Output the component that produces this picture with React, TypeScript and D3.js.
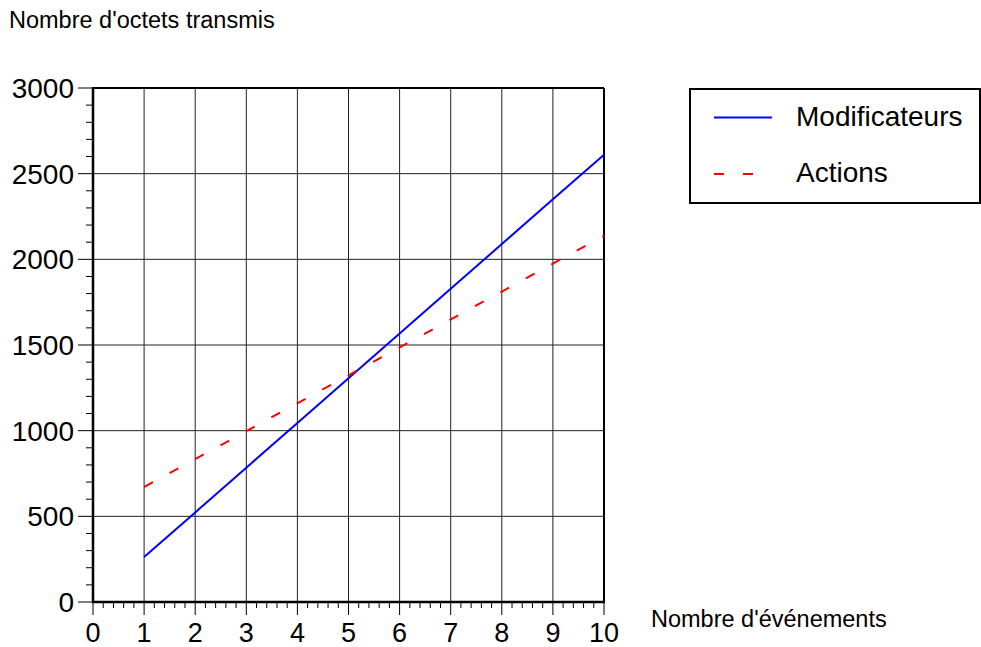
import { useEffect, useRef } from 'react';
import * as d3 from 'd3';

// Values
const events = [1, 2, 3, 4, 5, 6, 7, 8, 9, 10];
const modificateurs = [262, 523, 784, 1045, 1306, 1567, 1828, 2089, 2350, 2610];
const actions = [671, 834, 997, 1160, 1323, 1486, 1649, 1812, 1975, 2137];
const xTicks = [0, 1, 2, 3, 4, 5, 6, 7, 8, 9, 10];
const yTicks = [0, 500, 1000, 1500, 2000, 2500, 3000];
const seriesNames = ['Modificateurs', 'Actions'];

export default function App() {
  const svgRef = useRef<SVGSVGElement>(null);

  useEffect(() => {
    if (!svgRef.current) return;
    const svg = d3.select(svgRef.current);
    svg.selectAll('*').remove();

    const font = 'Liberation Sans, Arial, Helvetica, sans-serif';

    // Plot area in page coords (svg sits at 0,0 of the window)
    const x = d3.scaleLinear().domain([0, 10]).range([93, 604]);
    const y = d3.scaleLinear().domain([0, 3000]).range([602, 88]);

    const g = svg.append('g');

    // Grid
    g.selectAll('.vgrid')
      .data(xTicks.filter(d => d > 0 && d < 10))
      .enter()
      .append('line')
      .attr('x1', d => x(d)).attr('x2', d => x(d))
      .attr('y1', y(0)).attr('y2', y(3000))
      .attr('stroke', '#222').attr('stroke-width', 1);
    g.selectAll('.hgrid')
      .data(yTicks.filter(d => d > 0 && d < 3000))
      .enter()
      .append('line')
      .attr('x1', x(0)).attr('x2', x(10))
      .attr('y1', d => y(d)).attr('y2', d => y(d))
      .attr('stroke', '#222').attr('stroke-width', 1);

    // Frame (top and right)
    g.append('line')
      .attr('x1', x(0)).attr('x2', x(10)).attr('y1', y(3000)).attr('y2', y(3000))
      .attr('stroke', 'black').attr('stroke-width', 2);
    g.append('line')
      .attr('x1', x(10)).attr('x2', x(10)).attr('y1', y(0)).attr('y2', y(3000))
      .attr('stroke', 'black').attr('stroke-width', 2);

    // Y axis
    const yMinor = d3.range(0, 3001, 100).filter(d => d % 500 !== 0);
    g.selectAll('.ymin')
      .data(yMinor)
      .enter()
      .append('line')
      .attr('x1', x(0) - 7).attr('x2', x(0))
      .attr('y1', d => y(d)).attr('y2', d => y(d))
      .attr('stroke', 'black').attr('stroke-width', 1);
    g.selectAll('.ymaj')
      .data(yTicks)
      .enter()
      .append('line')
      .attr('x1', x(0) - 15).attr('x2', x(0))
      .attr('y1', d => y(d)).attr('y2', d => y(d))
      .attr('stroke', 'black').attr('stroke-width', 1);
    g.selectAll('.ylab')
      .data(yTicks)
      .enter()
      .append('text')
      .attr('x', 74)
      .attr('y', d => y(d) + 10)
      .attr('text-anchor', 'end')
      .attr('font-family', font)
      .attr('font-size', 28)
      .text(d => String(d));
    g.append('line')
      .attr('x1', x(0)).attr('x2', x(0)).attr('y1', y(0) + 1).attr('y2', y(3000) - 1)
      .attr('stroke', 'black').attr('stroke-width', 2.5);

    // X axis
    const xMinor = d3.range(0, 50).map(d => d / 5).filter(d => !Number.isInteger(d));
    g.selectAll('.xmin')
      .data(xMinor)
      .enter()
      .append('line')
      .attr('x1', d => x(d)).attr('x2', d => x(d))
      .attr('y1', y(0)).attr('y2', y(0) + 6)
      .attr('stroke', 'black').attr('stroke-width', 1);
    g.selectAll('.xmaj')
      .data(xTicks)
      .enter()
      .append('line')
      .attr('x1', d => x(d)).attr('x2', d => x(d))
      .attr('y1', y(0)).attr('y2', y(0) + 13)
      .attr('stroke', 'black').attr('stroke-width', 1);
    g.selectAll('.xlab')
      .data(xTicks)
      .enter()
      .append('text')
      .attr('x', d => x(d))
      .attr('y', 642)
      .attr('text-anchor', 'middle')
      .attr('font-family', font)
      .attr('font-size', 27)
      .text(d => String(d));
    g.append('line')
      .attr('x1', x(0) - 1).attr('x2', x(10) + 1).attr('y1', y(0)).attr('y2', y(0))
      .attr('stroke', 'black').attr('stroke-width', 2.5);

    // Axis titles
    g.append('text')
      .attr('x', 9).attr('y', 28)
      .attr('font-family', font).attr('font-size', 23.5)
      .text("Nombre d'octets transmis");
    g.append('text')
      .attr('x', 651).attr('y', 627)
      .attr('font-family', font).attr('font-size', 23.5)
      .text("Nombre d'événements");

    // Series
    const line = d3.line<number>()
      .x((_, i) => x(events[i]))
      .y(d => y(d));
    g.append('path')
      .attr('d', line(modificateurs))
      .attr('fill', 'none')
      .attr('stroke', '#0000ff')
      .attr('stroke-width', 2);
    g.append('path')
      .attr('d', line(actions))
      .attr('fill', 'none')
      .attr('stroke', '#ff0000')
      .attr('stroke-width', 2)
      .attr('stroke-dasharray', '10 19');

    // Legend
    const lg = svg.append('g');
    lg.append('rect')
      .attr('x', 690).attr('y', 89).attr('width', 290).attr('height', 114)
      .attr('fill', 'white').attr('stroke', 'black').attr('stroke-width', 2);
    const styles = [
      { color: '#0000ff', dash: null },
      { color: '#ff0000', dash: '10 19' },
    ];
    seriesNames.forEach((name, i) => {
      const cy = 117.5 + i * 56.5;
      lg.append('line')
        .attr('x1', 714).attr('x2', 772).attr('y1', cy).attr('y2', cy)
        .attr('stroke', styles[i].color).attr('stroke-width', 2)
        .attr('stroke-dasharray', styles[i].dash);
      lg.append('text')
        .attr('x', 796).attr('y', cy + 8)
        .attr('font-family', font).attr('font-size', 28)
        .text(name);
    });
  }, []);

  return (
    <svg
      ref={svgRef}
      width={981}
      height={647}
      style={{ position: 'absolute', left: 0, top: 0, background: 'white' }}
    />
  );
}
